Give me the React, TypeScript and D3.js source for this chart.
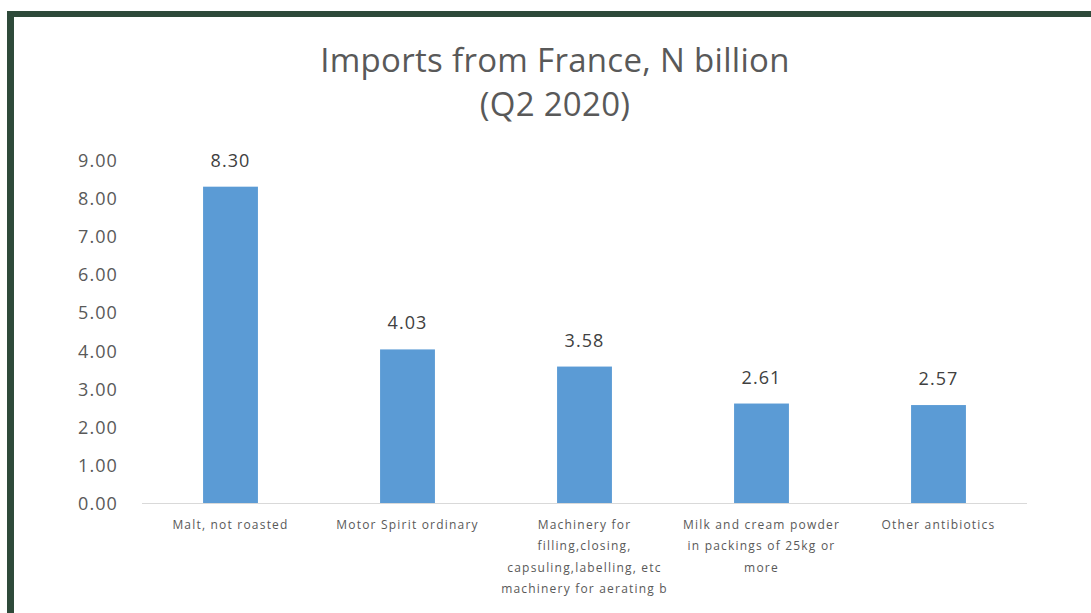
import React from "react";
import * as d3 from "d3";

const categories: string[][] = [
  ["Malt, not roasted"],
  ["Motor Spirit ordinary"],
  ["Machinery for", "filling,closing,", "capsuling,labelling, etc", "machinery for aerating b"],
  ["Milk and cream powder", "in packings of 25kg or", "more"],
  ["Other antibiotics"],
];
const values: number[] = [8.3, 4.03, 3.58, 2.61, 2.57];
const yTicks: number[] = [0, 1, 2, 3, 4, 5, 6, 7, 8, 9];
const titleLines: string[] = ["Imports from France, N billion", "(Q2 2020)"];

const W = 1091;
const H = 613;
const FONT = "'Open Sans', 'Liberation Sans', sans-serif";
const GREY = "#595959";

export default function App() {
  const left = 142, right = 1027, top = 160, bottom = 503;
  const x = d3.scaleBand<number>().domain(d3.range(values.length)).range([left, right]).paddingInner(0.69).paddingOuter(0.345);
  const y = d3.scaleLinear().domain([0, 9]).range([bottom, top]);
  return (
    <svg width={W} height={H} style={{ position: "absolute", left: 0, top: 0, background: "#fff" }} fontFamily={FONT}>
      <rect x={0} y={0} width={W} height={H} fill="#fff" />
      <rect x={7} y={11} width={W - 7} height={6} fill="#2E4A3A" />
      <rect x={7} y={11} width={7} height={H - 11} fill="#2E4A3A" />
      {titleLines.map((t, i) => (
        <text key={i} x={555} y={72 + i * 44} textAnchor="middle" fontSize={33} letterSpacing={0.3} fill={GREY}>{t}</text>
      ))}
      {yTicks.map((t) => (
        <text key={t} x={118} y={y(t) + 7} textAnchor="end" fontSize={18} letterSpacing={1.1} fill={GREY}>{t.toFixed(2)}</text>
      ))}
      {values.map((v, i) => (
        <g key={i}>
          <rect x={x(i)} y={y(v)} width={x.bandwidth()} height={bottom - y(v)} fill="#5B9BD5" />
          <text x={(x(i) as number) + x.bandwidth() / 2} y={y(v) - 20} textAnchor="middle" fontSize={18} letterSpacing={1.1} fill="#404040">{v.toFixed(2)}</text>
        </g>
      ))}
      <line x1={left} x2={right} y1={bottom + 0.5} y2={bottom + 0.5} stroke="#D9D9D9" strokeWidth={1} />
      {categories.map((lines, i) => (
        <text key={i} textAnchor="middle" fontSize={12} letterSpacing={1.2} fill={GREY}>
          {lines.map((l, j) => (
            <tspan key={j} x={(x(i) as number) + x.bandwidth() / 2} y={529 + j * 21.3}>{l}</tspan>
          ))}
        </text>
      ))}
    </svg>
  );
}
